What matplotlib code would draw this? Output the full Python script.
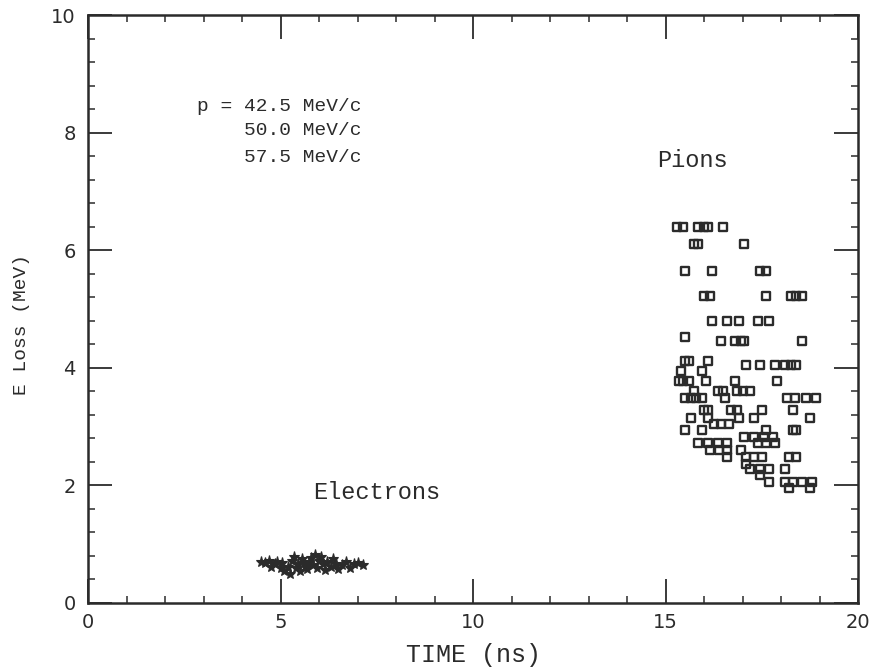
import matplotlib
matplotlib.use("Agg")
import matplotlib.pyplot as plt
from matplotlib.markers import MarkerStyle
from matplotlib.ticker import MultipleLocator

# --- pion hits: time of flight (ns) vs energy loss (MeV) ---
pion_time = [
    15.30, 15.45, 15.85, 16.00, 16.10, 16.50,
    15.75, 15.85, 17.05,
    15.50, 16.20, 17.45, 17.60,
    16.00, 16.15, 17.60, 18.25, 18.40, 18.55,
    16.20, 16.60, 16.90, 17.40, 17.70,
    15.50,
    16.45, 16.80, 16.95, 17.05, 18.55,
    15.50, 15.60, 16.10,
    17.10, 17.45, 17.85, 18.10, 18.25, 18.40,
    15.40, 15.95,
    15.35, 15.45, 15.60, 16.05, 16.80, 17.90,
    15.75, 16.35, 16.50, 16.85, 17.00, 17.20,
    15.50, 15.65, 15.80, 15.95, 16.55, 18.15, 18.35, 18.65, 18.90,
    16.00, 16.10, 16.70, 16.85, 17.50, 18.30,
    15.65, 16.10, 16.90, 17.30, 18.75,
    16.25, 16.45, 16.65,
    15.50, 15.95, 17.60, 18.30, 18.40,
    17.05, 17.30, 17.55, 17.80,
    15.85, 16.10, 16.35, 16.60, 17.40, 17.60, 17.85,
    16.15, 16.40, 16.60, 16.95,
    16.60, 17.10, 17.30, 17.50, 18.20, 18.40,
    17.10,
    17.20, 17.45, 17.70, 18.10,
    17.45,
    17.70, 18.10, 18.30, 18.55, 18.80,
    18.20, 18.75,
]
pion_eloss = (
    [6.40] * 6 + [6.10] * 3 + [5.65] * 4 + [5.22] * 6 + [4.80] * 5
    + [4.53] + [4.45] * 5 + [4.12] * 3 + [4.05] * 6 + [3.95] * 2
    + [3.77] * 6 + [3.60] * 6 + [3.48] * 9 + [3.28] * 6 + [3.15] * 5
    + [3.04] * 3 + [2.94] * 5 + [2.82] * 4 + [2.72] * 7 + [2.60] * 4
    + [2.48] * 6 + [2.36] + [2.28] * 4 + [2.17] + [2.06] * 5 + [1.96] * 2
)

# --- electron hits ---
elec_time = [4.50, 4.60, 4.70, 4.75, 4.85, 4.90, 5.00, 5.05, 5.10, 5.20,
             5.25, 5.30, 5.35, 5.40, 5.45, 5.50, 5.55, 5.60, 5.65, 5.70,
             5.75, 5.80, 5.85, 5.90, 5.95, 6.00, 6.05, 6.10, 6.15, 6.20,
             6.30, 6.35, 6.45, 6.50, 6.60, 6.70, 6.80, 6.90, 7.00, 7.15]
elec_eloss = [0.70, 0.68, 0.72, 0.62, 0.66, 0.70, 0.60, 0.68, 0.55, 0.62,
              0.50, 0.72, 0.78, 0.60, 0.66, 0.55, 0.74, 0.68, 0.62, 0.58,
              0.70, 0.76, 0.65, 0.82, 0.60, 0.72, 0.78, 0.66, 0.56, 0.70,
              0.62, 0.74, 0.66, 0.58, 0.64, 0.70, 0.60, 0.66, 0.68, 0.64]

momenta = ["p = 42.5 MeV/c", "    50.0 MeV/c", "    57.5 MeV/c"]

ink = "#2b2b2b"
mono = "Liberation Mono"

fig = plt.figure(figsize=(8.76, 6.70), dpi=100)
ax = fig.add_axes([0.1005, 0.100, 0.879, 0.8776])

ax.plot(pion_time, pion_eloss, linestyle="none",
        marker=MarkerStyle("s", joinstyle="round"), markersize=5.8,
        markerfacecolor="none", markeredgecolor=ink, markeredgewidth=1.7)
ax.plot(elec_time, elec_eloss, linestyle="none", marker="*",
        markersize=8, color=ink, markeredgewidth=0.8)

ax.set_xlim(0, 20)
ax.set_ylim(0, 10)

ax.xaxis.set_major_locator(MultipleLocator(5))
ax.xaxis.set_minor_locator(MultipleLocator(1))
ax.yaxis.set_major_locator(MultipleLocator(2))
ax.yaxis.set_minor_locator(MultipleLocator(0.4))

ax.tick_params(which="both", direction="in", top=True, right=True,
               color=ink, labelcolor=ink)
ax.tick_params(which="major", length=17, width=1.3, labelsize=14)
ax.tick_params(which="minor", length=5, width=1.1)
ax.tick_params(axis="x", which="major", pad=7)
ax.tick_params(axis="y", which="major", pad=9)

for side in ax.spines.values():
    side.set_linewidth(1.8)
    side.set_color(ink)

ax.set_xlabel("TIME (ns)", family=mono, fontsize=18, color=ink, labelpad=8)
ax.set_ylabel("E Loss (MeV)", family=mono, fontsize=14, color=ink)
ax.yaxis.set_label_coords(-0.075, 0.473)

ax.text(2.83, 8.45, momenta[0], family=mono, fontsize=14, color=ink, va="center")
for i, line in enumerate(momenta[1:]):
    ax.text(2.83, 8.03 - 0.46 * i, line, family=mono, fontsize=14,
            color=ink, va="center")

ax.text(15.7, 7.52, "Pions", family=mono, fontsize=17, color=ink,
        ha="center", va="center")
ax.text(7.5, 1.88, "Electrons", family=mono, fontsize=17, color=ink,
        ha="center", va="center")

fig.savefig("out.png", dpi=100)
